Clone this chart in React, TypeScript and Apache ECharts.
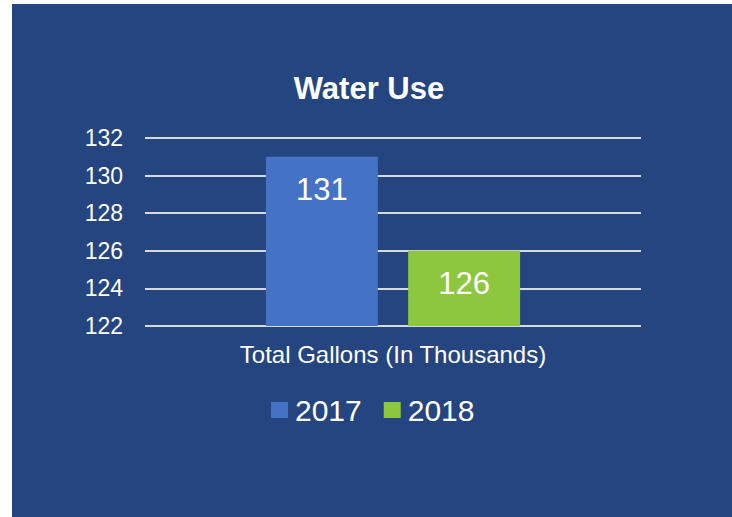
import React, { useEffect, useRef } from "react";
import * as echarts from "echarts";

const categories = ["Total Gallons (In Thousands)"];
const seriesNames = ["2017", "2018"];
const values2017 = [131];
const values2018 = [126];
const yTicks = { min: 122, max: 132, interval: 2 };

export default function App() {
  const ref = useRef<HTMLDivElement>(null);
  useEffect(() => {
    document.body.style.margin = "0";
    const chart = echarts.init(ref.current!, null, { renderer: "svg" });
    const font = "Liberation Sans, Arial, sans-serif";
    chart.setOption({
      animation: false,
      textStyle: { fontFamily: font },
      graphic: [
        {
          type: "rect",
          z: -10,
          silent: true,
          shape: { x: 12, y: 4, width: 720, height: 513 },
          style: { fill: "#24457F" },
        },
      ],
      title: {
        text: "Water Use",
        left: 369,
        textAlign: "center",
        top: 73,
        padding: 0,
        textStyle: { color: "#ffffff", fontSize: 31, fontWeight: "bold", fontFamily: font },
      },
      legend: {
        data: seriesNames,
        left: 266,
        top: 390,
        itemWidth: 17,
        itemHeight: 16,
        itemGap: 22,
        icon: "rect",
        textStyle: { color: "#ffffff", fontSize: 30, fontFamily: font, padding: [0, 0, 0, 2] },
      },
      grid: { left: 145, right: 91, top: 138, bottom: 191 },
      xAxis: {
        type: "category",
        data: categories,
        axisLine: { show: false },
        axisTick: { show: false },
        axisLabel: { color: "#ffffff", fontSize: 24, margin: 16, fontFamily: font },
      },
      yAxis: {
        type: "value",
        min: yTicks.min,
        max: yTicks.max,
        interval: yTicks.interval,
        axisLine: { show: false },
        axisTick: { show: false },
        axisLabel: { color: "#ffffff", fontSize: 23, margin: 22, fontFamily: font },
        splitLine: { lineStyle: { color: "#D9D9D9", width: 2 } },
      },
      series: [
        {
          name: seriesNames[0],
          type: "bar",
          data: values2017,
          barWidth: 112,
          barGap: "27%",
          itemStyle: { color: "#4472C4" },
          label: { show: true, position: "insideTop", distance: 17, color: "#ffffff", fontSize: 31, fontFamily: font },
        },
        {
          name: seriesNames[1],
          type: "bar",
          data: values2018,
          barWidth: 112,
          barGap: "27%",
          itemStyle: { color: "#8DC63F" },
          label: { show: true, position: "insideTop", distance: 17, color: "#ffffff", fontSize: 31, fontFamily: font },
        },
      ],
    });
    return () => chart.dispose();
  }, []);
  return <div ref={ref} style={{ width: 732, height: 517 }} />;
}
